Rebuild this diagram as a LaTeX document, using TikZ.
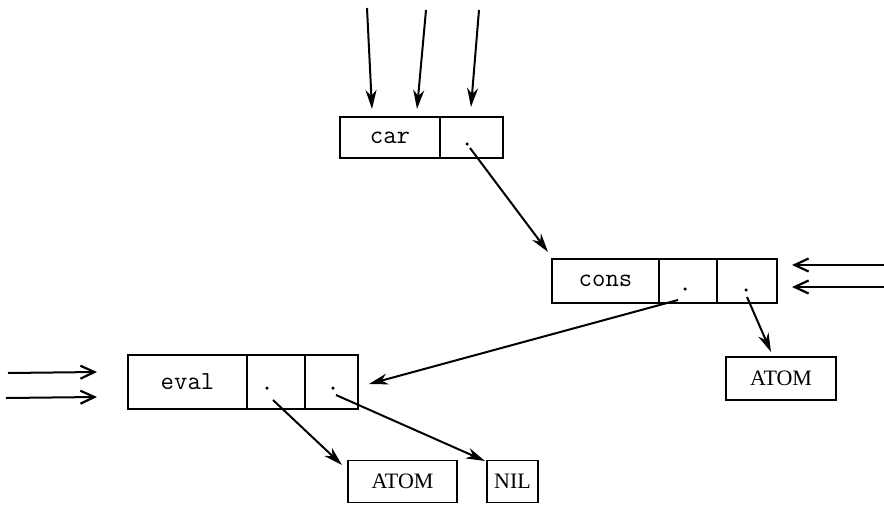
\documentclass[tikz,border=0pt]{standalone}
\usepackage{fontspec}
\setmainfont{Liberation Serif}
\usetikzlibrary{arrows.meta}
\begin{document}
\begin{tikzpicture}[x=1pt,y=-1pt,
  cell/.style={draw,line width=1.6pt,rectangle,outer sep=0pt,inner sep=0pt},
  atomcell/.style={cell,font=\fontsize{22}{22}\selectfont},
  fn/.style={font=\ttfamily\fontsize{26}{26}\selectfont},
  ptr/.style={fill,circle,inner sep=0pt,minimum size=3.5pt},
  link/.style={line width=2pt,-{Stealth[length=19pt,width=11pt,inset=6pt]}},
  feed/.style={line width=2pt,-{Straight Barb[length=14pt,width=13pt,line width=2.2pt]}}]
\useasboundingbox (0,0) rectangle (884,504);

% car cell
\node[cell,minimum width=100pt,minimum height=41pt,fn] (carL) at (390,137.5) {car};
\node[cell,minimum width=63pt,minimum height=41pt] (carP) at (471.5,137.5) {};
\node[ptr] (carD) at (467,144) {};

% cons cell
\node[cell,minimum width=107pt,minimum height=44pt,fn] (consL) at (605.5,281) {cons};
\node[cell,minimum width=58pt,minimum height=44pt] (consA) at (688,281) {};
\node[cell,minimum width=60pt,minimum height=44pt] (consB) at (747,281) {};
\node[ptr] (consAD) at (685,289) {};
\node[ptr] (consBD) at (746,290) {};

% eval cell
\node[cell,minimum width=119pt,minimum height=54pt,fn] (evalL) at (187.5,382) {eval};
\node[cell,minimum width=58pt,minimum height=54pt] (evalA) at (276,382) {};
\node[cell,minimum width=53pt,minimum height=54pt] (evalB) at (331.5,382) {};
\node[ptr] (evalAD) at (267,388) {};
\node[ptr] (evalBD) at (333,388) {};

% atoms
\node[atomcell,minimum width=110pt,minimum height=43pt] (atomR) at (781,378.5) {ATOM};
\node[atomcell,minimum width=109pt,minimum height=42pt] (atomB) at (402.5,481.5) {ATOM};
\node[atomcell,minimum width=51pt,minimum height=42pt] (nil) at (512.5,481.5) {NIL};

% free ends of incoming arrows
\coordinate (in1) at (367,8);
\coordinate (in2) at (426,10);
\coordinate (in3) at (479,10);
\coordinate (in1e) at (372,109);
\coordinate (in2e) at (417,109);
\coordinate (in3e) at (471,107);
\coordinate (r1) at (884,265);
\coordinate (r2) at (884,287);
\coordinate (r1e) at (792,265);
\coordinate (r2e) at (792,287);
\coordinate (l1) at (8,373);
\coordinate (l2) at (6,398);
\coordinate (l1e) at (97,372);
\coordinate (l2e) at (97,397);

% link start and end points
\coordinate (carS) at (470,148);
\coordinate (consT) at (548,252);
\coordinate (consAS) at (678,300);
\coordinate (evalT) at (369,384);
\coordinate (consBS) at (747,297);
\coordinate (atomRT) at (771,352);
\coordinate (evalAS) at (273,400);
\coordinate (atomBT) at (342,465);
\coordinate (evalBS) at (336,395);
\coordinate (nilT) at (485,461);

\draw[link] (in1) -- (in1e);
\draw[link] (in2) -- (in2e);
\draw[link] (in3) -- (in3e);
\draw[feed] (r1) -- (r1e);
\draw[feed] (r2) -- (r2e);
\draw[feed] (l1) -- (l1e);
\draw[feed] (l2) -- (l2e);

\draw[link] (carS) -- (consT);
\draw[link] (consAS) -- (evalT);
\draw[link] (consBS) -- (atomRT);
\draw[link] (evalAS) -- (atomBT);
\draw[link] (evalBS) -- (nilT);
\end{tikzpicture}
\end{document}
